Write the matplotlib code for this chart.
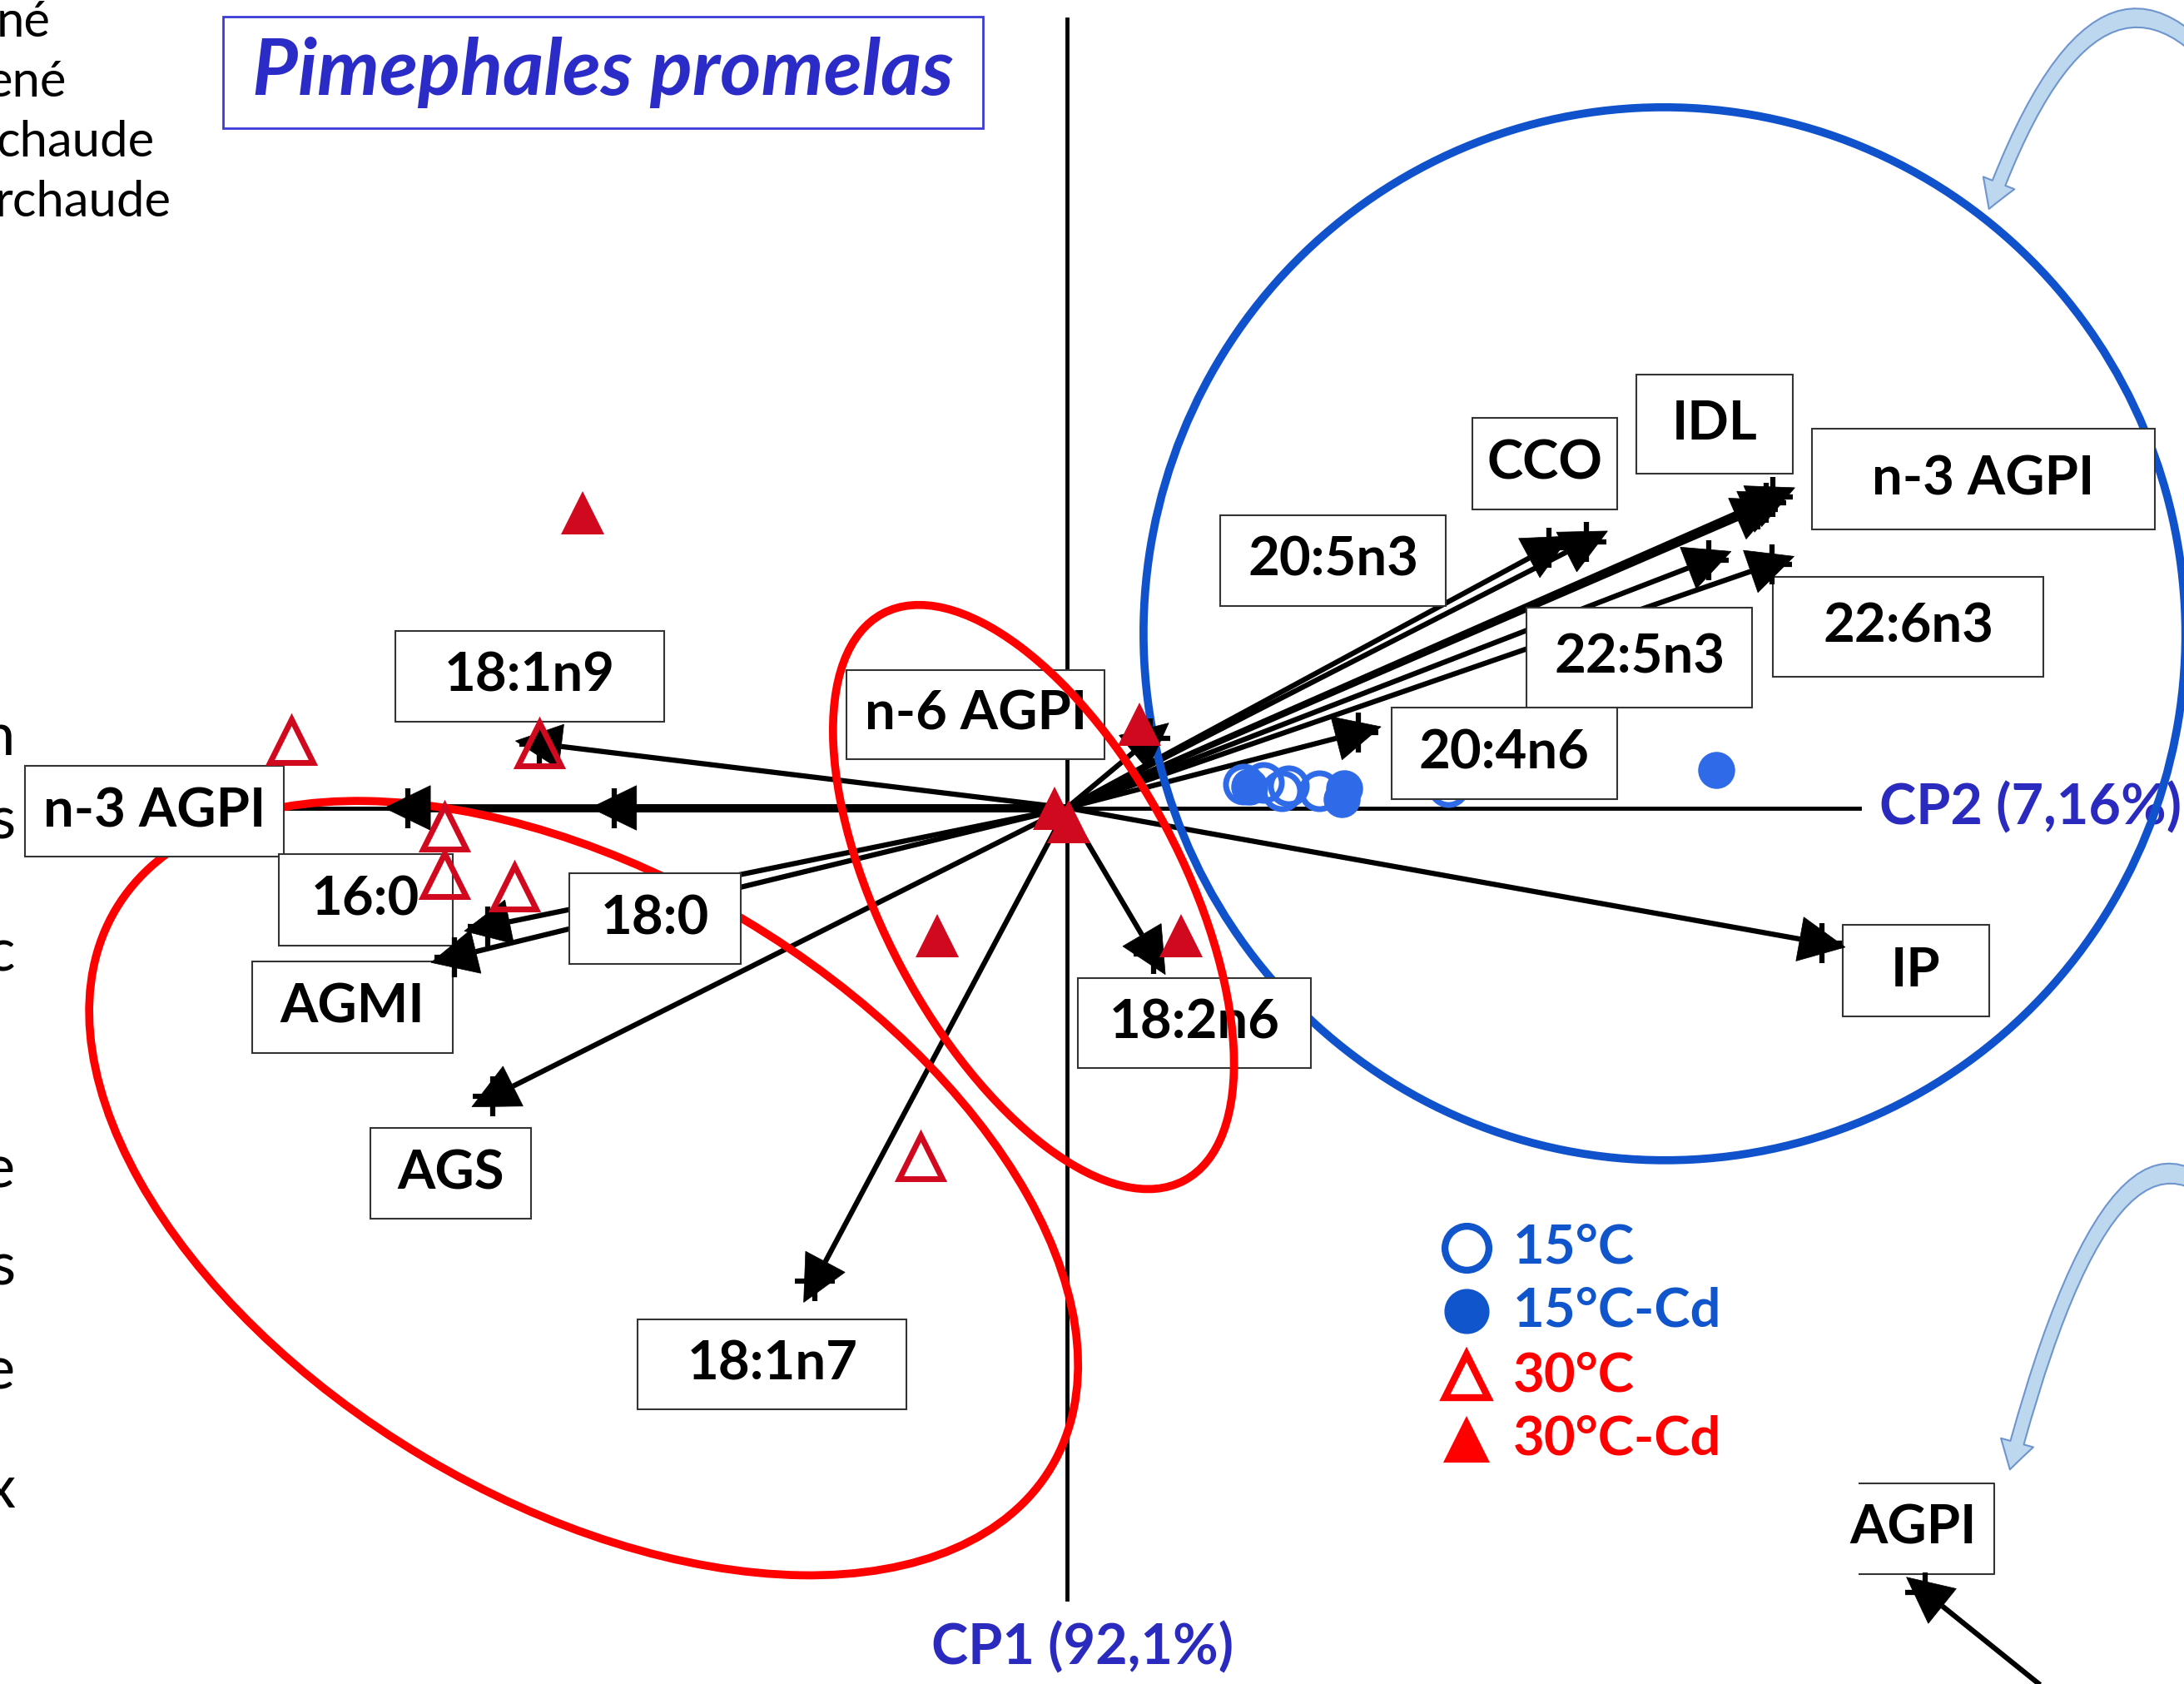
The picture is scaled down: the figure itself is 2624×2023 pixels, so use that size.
import numpy as np
import matplotlib.pyplot as plt
from matplotlib.patches import Ellipse, Rectangle, Polygon, FancyArrowPatch, ArrowStyle
from matplotlib.path import Path

plt.rcParams['font.family'] = ['Lato', 'DejaVu Sans']

# PCA loadings (CP1, CP2), plot units
var_x = [-4.73, -3.25, -3.79, -4.16, -4.40, -4.12, -1.81, 0.60, 0.62, 5.42,
         2.09, 4.61, 5.06, 3.46, 3.73, 4.96, 5.02, 5.07]
var_y = [0.00, 0.00, 0.46, -0.85, -1.07, -2.07, -3.40, 0.50, -1.05, -0.97,
         0.54, 1.78, 1.75, 1.87, 1.91, 2.14, 2.19, 2.23]

# sample scores
c15_x = [1.27, 1.41, 1.54, 1.59, 1.81, 2.74]
c15_y = [0.17, 0.18, 0.12, 0.16, 0.12, 0.15]
c15cd_x = [1.31, 1.99, 1.97, 4.66]
c15cd_y = [0.15, 0.14, 0.06, 0.27]
c30_x = [-5.57, -4.47, -4.47, -3.97, -3.79, -1.05]
c30_y = [0.48, -0.14, -0.48, -0.57, 0.46, -2.51]
c30cd_x = [-3.48, -0.09, 0.01, -0.93, 0.82, 0.52]
c30cd_y = [2.12, 0.00, -0.10, -0.92, -0.92, 0.60]

legend_labels = ['15°C', '15°C-Cd', '30°C', '30°C-Cd']

# label boxes: text, left, top, right, bottom (pixels of the slide)
boxes = [
    ('n-3 AGPI', 18, 550, 204, 615),
    ('18:1n9', 284, 453, 477, 518),
    ('n-6 AGPI', 608, 481, 793, 545),
    ('16:0', 200, 613, 325, 679),
    ('18:0', 409, 627, 532, 692),
    ('AGMI', 181, 690, 325, 756),
    ('AGS', 266, 810, 381, 875),
    ('18:1n7', 458, 947, 651, 1012),
    ('18:2n6', 774, 702, 941, 767),
    ('20:5n3', 876, 370, 1038, 435),
    ('CCO', 1057, 300, 1161, 366),
    ('IDL', 1175, 269, 1287, 340),
    ('n-3 AGPI', 1301, 308, 1547, 380),
    ('22:6n3', 1273, 414, 1467, 486),
    ('22:5n3', 1096, 436, 1258, 508),
    ('20:4n6', 999, 508, 1161, 574),
    ('IP', 1323, 664, 1428, 730),
]

BLUE_PT = '#2F6BE8'
RED_PT = '#D0091E'
BLUE_LEG = '#1155CC'
RED_LEG = '#FF0000'
AXIS_TXT = '#2A2ABF'


def P(x, y):
    # slide pixel -> plot units
    return (x - 766) / 100.0, (580 - y) / 100.0


fig = plt.figure(figsize=(26.24, 20.23), dpi=100)
ax = fig.add_axes([0, 0, 1, 1])
ax.set_xlim(-7.66, 8.02)
ax.set_ylim(-6.29, 5.80)
ax.axis('off')

# axes of the biplot
ax.plot([0, 0], [P(0, 14)[1], P(0, 1148)[1]], color='k', lw=3.5, zorder=2)
ax.plot([P(205, 0)[0], P(1335, 0)[0]], [0, 0], color='k', lw=3.5, zorder=2)


def draw_arrow(x0, y0, x1, y1, lw):
    dx, dy = x1 - x0, y1 - y0
    L = np.hypot(dx, dy)
    ux, uy = dx / L, dy / L
    nx, ny = -uy, ux
    tip = (x1 + ux * 0.17, y1 + uy * 0.17)
    bx, by = x1 - ux * 0.16, y1 - uy * 0.16
    ax.plot([x0, bx], [y0, by], color='k', lw=lw, zorder=3, solid_capstyle='butt')
    ax.add_patch(Polygon([tip, (bx + nx * 0.16, by + ny * 0.16), (bx - nx * 0.16, by - ny * 0.16)],
                         closed=True, fc='k', ec='k', lw=0.5, zorder=6))
    ax.plot(x1, y1, marker='+', ms=35, mew=4.5, color='k', zorder=6)


for x, y in zip(var_x, var_y):
    draw_arrow(0, 0, x, y, 7 if y == 0 else 4.5)

# boxes with labels
for txt, l, t, r, b in boxes:
    x0, y0 = P(l, b)
    x1, y1 = P(r, t)
    ax.add_patch(Rectangle((x0, y0), x1 - x0, y1 - y0, fc='white', ec='#333333', lw=1.5, zorder=5))
    ax.text((x0 + x1) / 2, (y0 + y1) / 2, txt, ha='center', va='center', fontsize=47,
            fontweight='bold', color='k', zorder=5.5)

# groups
ax.add_patch(Ellipse(P(1195, 455), 7.48, 7.56, angle=3, fill=False, ec='#1052CC', lw=7, zorder=4.5))
ax.add_patch(Ellipse(P(419, 853), 7.82, 4.49, angle=-30.8, fill=False, ec='#FF0000', lw=7, zorder=4))
ax.add_patch(Ellipse(P(742, 644), 4.61, 2.15, angle=-62, fill=False, ec='#FF0000', lw=7, zorder=7))

# scores
ax.plot(c15_x, c15_y, 'o', ms=31, mfc='none', mec=BLUE_PT, mew=5, zorder=4.2, ls='none')
ax.plot(c15cd_x, c15cd_y, 'o', ms=31, mfc=BLUE_PT, mec=BLUE_PT, zorder=4.3, ls='none')
ax.plot(c30_x, c30_y, '^', ms=37, mfc='none', mec=RED_PT, mew=5, zorder=6.5, ls='none')
ax.plot(c30cd_x, c30cd_y, '^', ms=37, mfc=RED_PT, mec=RED_PT, mew=0, zorder=6.5, ls='none')

# axis titles
ax.text(*P(1349, 580), 'CP2 (7,16%)', ha='left', va='center', fontsize=48, fontweight='bold', color=AXIS_TXT)
ax.text(*P(777, 1183), 'CP1 (92,1%)', ha='center', va='center', fontsize=48, fontweight='bold', color=AXIS_TXT)

# title box
tx0, ty0 = P(160, 92)
tx1, ty1 = P(706, 12)
ax.add_patch(Rectangle((tx0, ty0), tx1 - tx0, ty1 - ty0, fc='white', ec='#3B3BD6', lw=2, zorder=5))
ax.text(*P(433, 52), 'Pimephales promelas', ha='center', va='center', fontsize=68,
        fontweight='bold', style='italic', color='#2B2BC8', zorder=6)

# legend
leg_y = [896, 941, 988, 1033]
leg_styles = [dict(marker='o', ms=38, mfc='none', mec=BLUE_LEG, mew=6),
              dict(marker='o', ms=38, mfc=BLUE_LEG, mec=BLUE_LEG),
              dict(marker='^', ms=38, mfc='none', mec=RED_LEG, mew=6),
              dict(marker='^', ms=41, mfc=RED_LEG, mec=RED_LEG, mew=0)]
leg_cols = [BLUE_LEG, BLUE_LEG, RED_LEG, RED_LEG]
for yy, lab, st, col in zip(leg_y, legend_labels, leg_styles, leg_cols):
    ax.plot(*P(1053, yy), ls='none', zorder=6, **st)
    ax.text(*P(1086, yy), lab, ha='left', va='center', fontsize=47, fontweight='bold', color=col)

# cut-off text from the slide at left
for s, xr, yy in [('né', 36, 16), ('ené', 48, 59), ('chaude', 111, 102), ('rchaude', 123, 145)]:
    ax.text(*P(xr, yy), s, ha='right', va='center', fontsize=43, color='k')
for s, yy in zip(['n', 's', 'c', 'e', 's', 'e', 'x'], [530, 590, 685, 840, 910, 985, 1070]):
    ax.text(*P(11, yy), s, ha='right', va='center', fontsize=52, color='k')

# neighbouring panel (bottom right)
bx0, by0 = P(1335, 1130)
bx1, by1 = P(1432, 1065)
ax.plot([bx0, bx1, bx1, bx0], [by1, by1, by0, by0], color='#333333', lw=1.5, zorder=5)
ax.text(*P(1419, 1097), 'AGPI', ha='right', va='center', fontsize=47, fontweight='bold', color='k')
draw_arrow(*P(1490, 1230), *P(1382, 1143), 4.5)

# curved light-blue arrows
style = ArrowStyle.Simple(head_length=2.4, head_width=2.9, tail_width=1.2)
for pts in ([(1620, 90), (1516, -90), (1428, 150)],
            [(1620, 900), (1528, 732), (1443, 1055)]):
    path = Path([P(*p) for p in pts], [Path.MOVETO, Path.CURVE3, Path.CURVE3])
    ax.add_patch(FancyArrowPatch(path=path, arrowstyle=style, mutation_scale=10,
                                 fc='#BDD7EE', ec='#6F95CF', lw=1.5, zorder=8))

fig.savefig('out.png', dpi=100)
